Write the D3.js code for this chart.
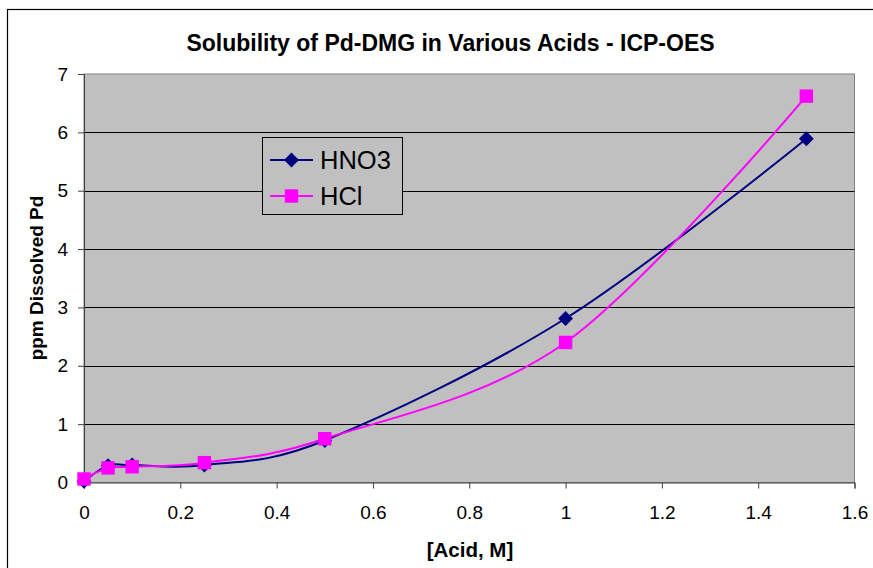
<!DOCTYPE html>
<html><head><meta charset="utf-8">
<script src="https://cdn.jsdelivr.net/npm/d3@7"></script>
<style>body{margin:0;background:#fff;font-family:Arial,"Liberation Sans",sans-serif;}</style>
</head><body><svg id="c" width="873" height="568"></svg>
<script>
const titleText = "Solubility of Pd-DMG in Various Acids - ICP-OES";
const xTitle = "[Acid, M]";
const yTitle = "ppm Dissolved Pd";
const acid = [0, 0.05, 0.1, 0.25, 0.5, 1, 1.5];
const hno3 = [0.02, 0.29, 0.3, 0.3, 0.72, 2.81, 5.89];
const hcl = [0.06, 0.25, 0.27, 0.34, 0.75, 2.4, 6.62];
const seriesNames = ["HNO3", "HCl"];
const xTicks = [0, 0.2, 0.4, 0.6, 0.8, 1, 1.2, 1.4, 1.6];
const yTicks = [0, 1, 2, 3, 4, 5, 6, 7];

const svg = d3.select("#c");
const font = "Arial, 'Liberation Sans', sans-serif";
svg.append("rect").attr("x",7.5).attr("y",9.5).attr("width",900).attr("height",600)
  .attr("fill","#fff").attr("stroke","#000").attr("stroke-width",1.2);

const L=84, R=854.5, T=74, B=482.5;
const x = d3.scaleLinear().domain([0,1.6]).range([L,R]);
const y = d3.scaleLinear().domain([0,7]).range([B,T]);

svg.append("rect").attr("x",L).attr("y",T).attr("width",R-L).attr("height",B-T)
  .attr("fill","#C0C0C0").attr("stroke","#808080").attr("stroke-width",1);

svg.append("g").selectAll("line").data(yTicks.filter(d=>d>0 && d<7)).join("line")
  .attr("x1",L).attr("x2",R).attr("y1",d=>Math.round(y(d))+0.5).attr("y2",d=>Math.round(y(d))+0.5)
  .attr("stroke","#000").attr("stroke-width",1);

const yAxis = d3.axisLeft(y).tickValues(yTicks).tickSize(6).tickPadding(10).tickFormat(d3.format("d"));
const gy = svg.append("g").attr("transform",`translate(${L},0)`).call(yAxis);
const xAxis = d3.axisBottom(x).tickValues(xTicks).tickSize(6).tickPadding(17).tickFormat(d=>String(+d.toFixed(1)));
const gx = svg.append("g").attr("transform",`translate(0,${B})`).call(xAxis);
[gx,gy].forEach(g=>{
  g.selectAll(".domain").attr("stroke","#404040");
  g.selectAll(".tick line").attr("stroke","#404040");
  g.selectAll("text").attr("font-family",font).attr("font-size",19).attr("fill","#000");
});

svg.append("text").attr("x",450.5).attr("y",51).attr("text-anchor","middle")
  .attr("font-family",font).attr("font-weight","bold").attr("font-size",23).text(titleText);
svg.append("text").attr("x",470).attr("y",557).attr("text-anchor","middle")
  .attr("font-family",font).attr("font-weight","bold").attr("font-size",20.5).text(xTitle);
svg.append("text").attr("transform","translate(43,278) rotate(-90)").attr("text-anchor","middle")
  .attr("font-family",font).attr("font-weight","bold").attr("font-size",19).text(yTitle);

const diamond = {draw(ctx, size){ const r=Math.sqrt(size/2); ctx.moveTo(0,-r); ctx.lineTo(r,0); ctx.lineTo(0,r); ctx.lineTo(-r,0); ctx.closePath(); }};
const line = d3.line().x(d=>x(d[0])).y(d=>y(d[1])).curve(d3.curveCardinal.tension(0));
const series = [
  {name:seriesNames[0], vals:hno3, color:"#000080", sym:diamond, size:110},
  {name:seriesNames[1], vals:hcl, color:"#FF00FF", sym:d3.symbolSquare, size:180}
];
series.forEach(s=>{
  const pts = acid.map((a,i)=>[a,s.vals[i]]);
  svg.append("path").attr("d",line(pts)).attr("fill","none").attr("stroke",s.color).attr("stroke-width",2);
});
series.forEach(s=>{
  const pts = acid.map((a,i)=>[a,s.vals[i]]);
  svg.append("g").selectAll("path").data(pts).join("path")
    .attr("transform",d=>`translate(${x(d[0])},${y(d[1])})`)
    .attr("d",d3.symbol().type(s.sym).size(s.size)).attr("fill",s.color);
});

const lg = svg.append("g");
lg.append("rect").attr("x",262.5).attr("y",137.5).attr("width",140).attr("height",77)
  .attr("fill","#C0C0C0").attr("stroke","#000").attr("stroke-width",1);
series.forEach((s,i)=>{
  const cy = 160 + i*36;
  lg.append("line").attr("x1",270).attr("x2",313).attr("y1",cy).attr("y2",cy).attr("stroke",s.color).attr("stroke-width",2);
  lg.append("path").attr("transform",`translate(291.5,${cy})`).attr("d",d3.symbol().type(s.sym).size(s.size)).attr("fill",s.color);
  lg.append("text").attr("x",320).attr("y",cy+9).attr("font-family",font).attr("font-size",25.5).text(s.name);
});
</script></body></html>
